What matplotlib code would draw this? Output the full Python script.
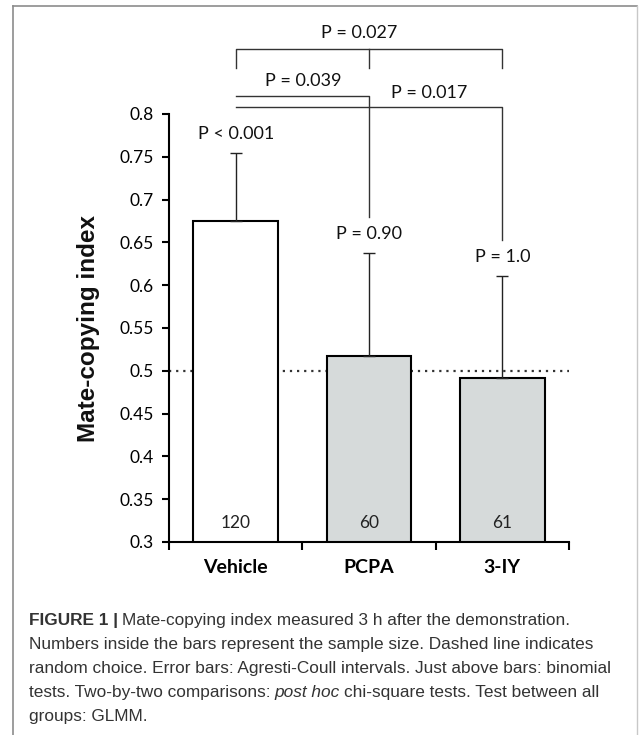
import numpy as np
import matplotlib
matplotlib.use("Agg")
import matplotlib.pyplot as plt
from matplotlib.lines import Line2D

plt.rcParams["font.family"] = ["Lato", "DejaVu Sans"]

# group data
groups = ["Vehicle", "PCPA", "3-IY"]
copy_index = [0.675, 0.517, 0.492]
ci_upper = [0.755, 0.638, 0.611]
sample_size = [120, 60, 61]
bar_colors = ["white", "#d6dada", "#d6dada"]

# binomial tests against 0.5, one per bar
binom_labels = ["P < 0.001", "P = 0.90", "P = 1.0"]
# pairwise chi-square tests: (group a, group b, label)
pair_tests = [(0, 1, "P = 0.039"), (0, 2, "P = 0.017")]
glmm_label = "P = 0.027"

yticks = [0.3, 0.35, 0.4, 0.45, 0.5, 0.55, 0.6, 0.65, 0.7, 0.75, 0.8]

caption = [
    [("FIGURE 1 |", "bold", "normal"),
     ("Mate-copying index measured 3 h after the demonstration.", "normal", "normal")],
    [("Numbers inside the bars represent the sample size. Dashed line indicates", "normal", "normal")],
    [("random choice. Error bars: Agresti-Coull intervals. Just above bars: binomial", "normal", "normal")],
    [("tests. Two-by-two comparisons:", "normal", "normal"),
     ("post hoc", "normal", "italic"),
     ("chi-square tests. Test between all", "normal", "normal")],
    [("groups: GLMM.", "normal", "normal")],
]

W, H = 640, 735
fig = plt.figure(figsize=(W / 100, H / 100), dpi=100)
fig.patch.set_facecolor("white")
ax = fig.add_axes([169 / W, 1 - 542 / H, 400 / W, 428 / H])

x = np.arange(len(groups))
vals = np.array(copy_index)
upper = np.array(ci_upper)

ax.axhline(0.5, color="#333333", lw=1.6, ls=(0, (1, 2.2)), zorder=1)
ax.bar(x, vals, width=0.635, color=bar_colors, edgecolor="black", linewidth=1.5, zorder=2)
ax.errorbar(x, vals, yerr=[np.zeros_like(vals), upper - vals], fmt="none",
            ecolor="#222222", elinewidth=1.0, capsize=4, capthick=1.0, zorder=3)

for xi, n in zip(x, sample_size):
    ax.text(xi, 0.322, str(n), ha="center", va="center", fontsize=12.5, color="#222222")

# binomial test results just above each error bar
label_y = upper + 0.022
for xi, ly, lab in zip(x, label_y, binom_labels):
    ax.text(xi, ly, lab, ha="center", va="center", fontsize=13, color="#111111")

line_kw = dict(color="#333333", lw=1.0, clip_on=False, zorder=4)

# pairwise brackets: horizontal from the first group, drop down onto the second
pair_y = [0.821, 0.808]
pair_text = [(0.507, 0.839), (1.455, 0.825)]
for (a, b, lab), py, (tx, ty) in zip(pair_tests, pair_y, pair_text):
    ax.plot([a, b, b], [py, py, label_y[b] + 0.02], **line_kw)
    ax.text(tx, ty, lab, ha="center", va="center", fontsize=13, color="#111111")

# bracket over all groups
top_y, drop_y = 0.876, 0.854
ax.plot([0, 0, 2, 2], [drop_y, top_y, top_y, drop_y], **line_kw)
ax.plot([1, 1], [top_y, drop_y], **line_kw)
ax.text(0.93, 0.895, glmm_label, ha="center", va="center", fontsize=13, color="#111111")

ax.set_xlim(-0.5, 2.5)
ax.set_ylim(0.3, 0.8)
ax.set_yticks(yticks)
ax.set_yticklabels([f"{t:g}" for t in yticks])
ax.tick_params(axis="y", direction="out", length=5, width=1.5, pad=6, labelsize=12.5)

ax.set_xticks(x)
ax.set_xticklabels(groups, fontweight="bold", fontsize=14)
ax.tick_params(axis="x", which="major", length=0, pad=12)
ax.set_xticks([-0.5, 0.5, 1.5, 2.5], minor=True)
ax.tick_params(axis="x", which="minor", direction="out", length=6, width=1.5)

for side in ["top", "right"]:
    ax.spines[side].set_visible(False)
for side in ["left", "bottom"]:
    ax.spines[side].set_linewidth(1.5)
ax.patch.set_alpha(0)

ax.text(-0.2025, 0.5, "Mate-copying index", transform=ax.transAxes, rotation=90,
        ha="center", va="center", fontsize=17.5, fontweight="bold", color="#111111",
        family=["Liberation Sans", "DejaVu Sans"])

# frame around figure and caption
frame_kw = dict(color="#8c8c8c", lw=1.2)
fig.add_artist(Line2D([13 / W, 13 / W], [0, 1 - 6 / H], **frame_kw))
fig.add_artist(Line2D([13 / W, 637 / W], [1 - 6 / H, 1 - 6 / H], **frame_kw))
fig.add_artist(Line2D([637 / W, 637 / W], [0, 1 - 6 / H], color="#c8c8c8", lw=1.0))

# caption with mixed bold/italic runs
renderer = fig.canvas.get_renderer()
cap_kw = dict(fontsize=12.4, color="#333333", family=["Liberation Sans", "DejaVu Sans"])
space_px = 4.2
for i, line in enumerate(caption):
    cx = 29
    cy = 620 + 24 * i
    for text, weight, style in line:
        t = fig.text(cx / W, 1 - cy / H, text, ha="left", va="center",
                     fontweight=weight, fontstyle=style, **cap_kw)
        bb = t.get_window_extent(renderer)
        cx += bb.width + space_px

fig.savefig("out.png", dpi=100)
